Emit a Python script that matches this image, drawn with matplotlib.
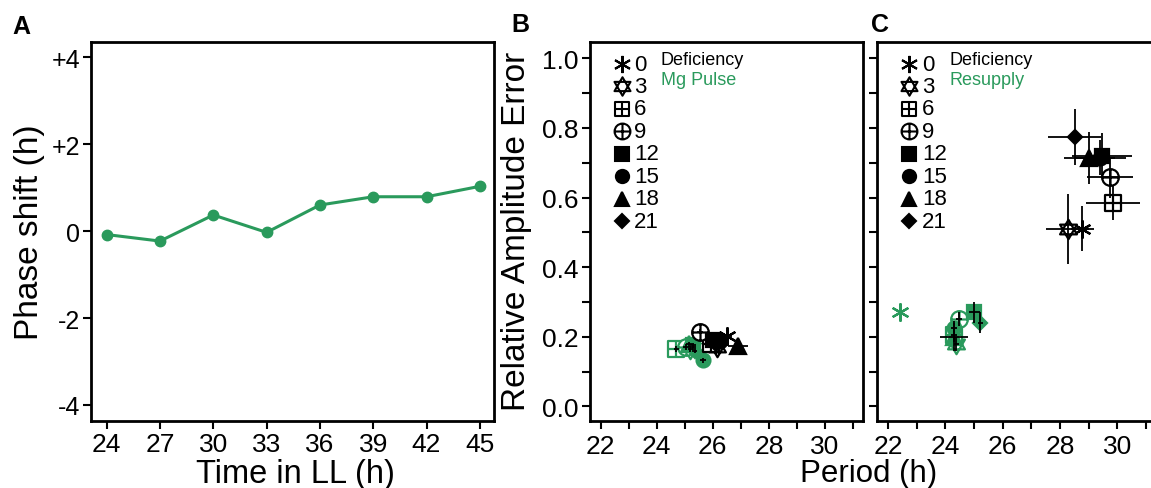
import numpy as np
import matplotlib
matplotlib.use('Agg')
import matplotlib.pyplot as plt
from matplotlib.path import Path

plt.rcParams['font.family'] = ['Liberation Sans', 'DejaVu Sans']

green = '#2a9a5c'

# panel A
time_ll = [24, 27, 30, 33, 36, 39, 42, 45]
phase_shift = [-0.08, -0.23, 0.37, -0.03, 0.60, 0.79, 0.79, 1.03]

# panels B and C, one entry per pulse time
pulse_labels = ['0', '3', '6', '9', '12', '15', '18', '21']

# B: deficiency (black) vs Mg pulse (green)
b_def_period = [26.50, 26.15, 25.95, 25.55, 26.00, 26.25, 26.90, 26.10]
b_def_err = [0.203, 0.172, 0.180, 0.215, 0.190, 0.188, 0.174, 0.180]
b_def_xerr = [0.20, 0.20, 0.15, 0.10, 0.20, 0.15, 0.35, 0.15]
b_def_yerr = [0.010, 0.010, 0.008, 0.008, 0.010, 0.008, 0.008, 0.008]
b_mg_period = [25.30, 25.20, 24.70, 25.05, 25.30, 25.65, 25.15, 25.35]
b_mg_err = [0.170, 0.165, 0.165, 0.170, 0.175, 0.132, 0.178, 0.160]
b_mg_xerr = [0.10, 0.10, 0.10, 0.10, 0.10, 0.10, 0.10, 0.10]
b_mg_yerr = [0.008, 0.008, 0.008, 0.008, 0.008, 0.008, 0.008, 0.008]

# C: deficiency (black) vs resupply (green)
c_def_period = [28.78, 28.28, 29.85, 29.76, 29.48, 29.40, 29.03, 28.51]
c_def_err = [0.511, 0.510, 0.584, 0.658, 0.720, 0.715, 0.713, 0.775]
c_def_xerr = [0.40, 0.75, 0.95, 0.80, 1.05, 0.90, 0.90, 0.93]
c_def_yerr = [0.065, 0.100, 0.048, 0.060, 0.065, 0.050, 0.075, 0.080]
c_res_period = [22.43, 24.39, 24.30, 24.47, 25.02, 24.30, 24.30, 25.22]
c_res_err = [0.272, 0.180, 0.205, 0.251, 0.270, 0.225, 0.200, 0.241]
c_res_xerr = [0.00, 0.10, 0.10, 0.10, 0.20, 0.10, 0.50, 0.08]
c_res_yerr = [0.000, 0.020, 0.020, 0.020, 0.030, 0.020, 0.040, 0.030]


# marker shapes
def cross_lines():
    return Path([(-1, 0), (1, 0), (0, -1), (0, 1)],
                [Path.MOVETO, Path.LINETO, Path.MOVETO, Path.LINETO])

star_david = Path.make_compound_path(
    Path([(0, 1), (-0.866, -0.5), (0.866, -0.5), (0, 1)], closed=True),
    Path([(0, -1), (-0.866, 0.5), (0.866, 0.5), (0, -1)], closed=True))
square_plus = Path.make_compound_path(
    Path([(-1, -1), (1, -1), (1, 1), (-1, 1), (-1, -1)], closed=True),
    cross_lines())
circle_plus = Path.make_compound_path(Path.unit_circle(), cross_lines())

# marker, size, filled
styles = [((6, 2, 0), 13, False),
          (star_david, 14, False),
          (square_plus, 11, False),
          (circle_plus, 12, False),
          ('s', 10, True),
          ('o', 10, True),
          ('^', 11, True),
          ('D', 7, True)]


def draw_markers(ax, xs, ys, color, **kw):
    for x, y, (mk, ms, filled) in zip(xs, ys, styles):
        ax.plot([x], [y], linestyle='none', marker=mk, markersize=ms,
                markeredgewidth=1.6, markeredgecolor=color,
                markerfacecolor=color if filled else 'white', zorder=3, **kw)


def draw_legend(ax, second_label):
    x0 = 0.116
    for i, (mk, ms, filled) in enumerate(styles):
        y = 0.942 - i * 0.0593
        ax.plot([x0], [y], transform=ax.transAxes, linestyle='none',
                marker=mk, markersize=ms * 0.95, markeredgewidth=1.5,
                markeredgecolor='k', markerfacecolor='k' if filled else 'white',
                clip_on=False)
        ax.text(x0 + 0.045, y, pulse_labels[i], transform=ax.transAxes,
                fontsize=16, va='center', ha='left')
    ax.text(0.26, 0.953, 'Deficiency', transform=ax.transAxes, fontsize=13,
            va='center', ha='left')
    ax.text(0.26, 0.900, second_label, transform=ax.transAxes, fontsize=13,
            va='center', ha='left', color=green)


fig = plt.figure(figsize=(11.51, 4.89), dpi=100)

# ---- A ----
axA = fig.add_axes([0.0791, 0.137, 0.350, 0.775])
axA.plot(time_ll, phase_shift, color=green, linewidth=2.2, marker='o',
         markersize=7.5)
axA.set_xlim(23.12, 45.79)
axA.set_ylim(-4.37, 4.35)
axA.set_xticks(time_ll)
axA.set_yticks([4, 2, 0, -2, -4])
axA.set_yticklabels(['+4', '+2', '0', '-2', '-4'])
axA.tick_params(direction='out', length=6, width=1.5, labelsize=18, pad=2)
axA.tick_params(axis='x', pad=2, labelsize=19)
for s in axA.spines.values():
    s.set_linewidth(2)

# ---- B and C ----
axB = fig.add_axes([0.5126, 0.137, 0.2372, 0.775])
axC = fig.add_axes([0.762, 0.137, 0.2425, 0.775])

panels = [(axB, b_def_period, b_def_err, b_def_xerr, b_def_yerr,
           b_mg_period, b_mg_err, b_mg_xerr, b_mg_yerr, 'Mg Pulse'),
          (axC, c_def_period, c_def_err, c_def_xerr, c_def_yerr,
           c_res_period, c_res_err, c_res_xerr, c_res_yerr, 'Resupply')]

for ax, dx, dy, dxe, dye, gx, gy, gxe, gye, lab in panels:
    draw_markers(ax, gx, gy, green)
    draw_markers(ax, dx, dy, 'k')
    ax.errorbar(dx, dy, xerr=dxe, yerr=dye, fmt='none', ecolor='k',
                elinewidth=1.3, capsize=0, zorder=4)
    ax.errorbar(gx, gy, xerr=gxe, yerr=gye, fmt='none', ecolor='k',
                elinewidth=1.3, capsize=0, zorder=4)
    ax.set_xlim(21.62, 31.36)
    ax.set_ylim(-0.042, 1.047)
    ax.set_xticks([22, 24, 26, 28, 30])
    ax.set_xticks([23, 25, 27, 29, 31], minor=True)
    ax.set_yticks([0.0, 0.2, 0.4, 0.6, 0.8, 1.0])
    ax.set_yticks([0.1, 0.3, 0.5, 0.7, 0.9], minor=True)
    ax.tick_params(which='both', direction='out', length=6, width=1.5,
                   labelsize=19, pad=2)
    ax.tick_params(axis='x', pad=3)
    for s in ax.spines.values():
        s.set_linewidth(2)
    draw_legend(ax, lab)

axB.set_yticklabels(['0.0', '0.2', '0.4', '0.6', '0.8', '1.0'])
axC.tick_params(axis='y', labelleft=False)

# axis titles and panel letters
fig.text(0.026, 0.526, 'Phase shift (h)', rotation=90, fontsize=24,
         ha='center', va='center')
fig.text(0.2563, 0.0125, 'Time in LL (h)', fontsize=23.5, ha='center',
         va='baseline')
fig.text(0.449, 0.526, 'Relative Amplitude Error', rotation=90, fontsize=24,
         ha='center', va='center')
fig.text(0.755, 0.0143, 'Period (h)', fontsize=22.5, ha='center',
         va='baseline')
fig.text(0.011, 0.93, 'A', fontsize=18, fontweight='bold')
fig.text(0.444, 0.935, 'B', fontsize=18, fontweight='bold')
fig.text(0.757, 0.935, 'C', fontsize=18, fontweight='bold')

fig.savefig('out.png', dpi=100)
